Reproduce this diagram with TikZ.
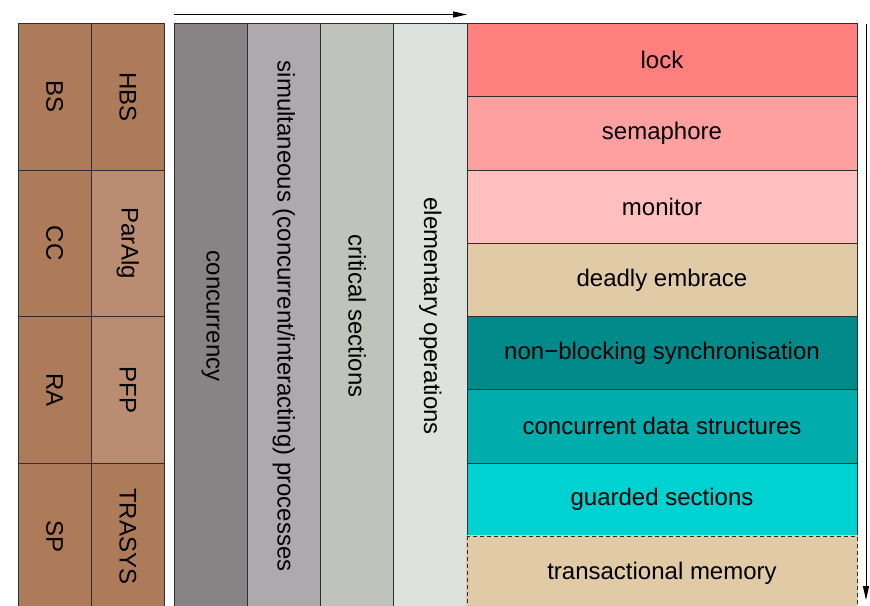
\documentclass[tikz,border=0pt]{standalone}
\usepackage{fontspec}
\setmainfont{Liberation Sans}
\usetikzlibrary{arrows.meta}
\definecolor{brownA}{HTML}{AD7A5A}
\definecolor{brownB}{HTML}{BA8C72}
\definecolor{greyA}{HTML}{888385}
\definecolor{greyB}{HTML}{AEA9AC}
\definecolor{greyC}{HTML}{BFC3BC}
\definecolor{greyD}{HTML}{DEE2DF}
\definecolor{redA}{HTML}{FF7F7F}
\definecolor{redB}{HTML}{FFA0A0}
\definecolor{redC}{HTML}{FFBFBF}
\definecolor{tan}{HTML}{E0CBA6}
\definecolor{tealA}{HTML}{008B8A}
\definecolor{tealB}{HTML}{00ADAD}
\definecolor{tealC}{HTML}{00D1D1}
\definecolor{edge}{HTML}{2E2E2E}
\begin{document}
\begin{tikzpicture}[x=1pt,y=-1pt,
  cell/.style={draw=edge, line width=1pt, inner sep=0pt, outer sep=0pt, anchor=north west,
               font=\fontsize{24}{28}\selectfont, text=black},
  lcell/.style={cell, minimum width=73.25pt, minimum height=146.5pt},
  vcol/.style={cell, minimum width=73.25pt, minimum height=585.5pt},
  rcell/.style={cell, minimum width=390pt, minimum height=73.25pt},
  arr/.style={line width=1pt, -{Triangle[length=14pt,width=6pt]}}]
\useasboundingbox (0,0) rectangle (870,605);
\clip (0,0) rectangle (870,605);
% left block
\node[lcell, fill=brownA] (bs)  at (18,23.5)  {\rotatebox{-90}{BS}};
\node[lcell, fill=brownA] (cc)  at (18,170)   {\rotatebox{-90}{CC}};
\node[lcell, fill=brownA] (ra)  at (18,316.5) {\rotatebox{-90}{RA}};
\node[lcell, fill=brownA] (sp)  at (18,463)   {\rotatebox{-90}{SP}};
\node[lcell, fill=brownA] (hbs) at (91.25,23.5)  {\rotatebox{-90}{HBS}};
\node[lcell, fill=brownB] (pa)  at (91.25,170)   {\rotatebox{-90}{ParAlg}};
\node[lcell, fill=brownB] (pfp) at (91.25,316.5) {\rotatebox{-90}{PFP}};
\node[lcell, fill=brownA] (tr)  at (91.25,463)   {\rotatebox{-90}{TRASYS}};
% middle columns
\node[vcol, fill=greyA] (c1) at (174,23.5)   {\rotatebox{-90}{concurrency}};
\node[vcol, fill=greyB] (c2) at (247.25,23.5) {\rotatebox{-90}{simultaneous (concurrent/interacting) processes}};
\node[vcol, fill=greyC] (c3) at (320.5,23.5)  {\rotatebox{-90}{critical sections}};
\node[vcol, fill=greyD] (c4) at (393.75,23.5) {\rotatebox{-90}{elementary operations}};
% right block
\node[rcell, fill=redA]  (r1) at (467,23.5)   {lock};
\node[rcell, fill=redB]  (r2) at (467,96.75)  {semaphore};
\node[rcell, fill=redC]  (r3) at (467,170)    {monitor};
\node[rcell, fill=tan]   (r4) at (467,243.25) {deadly embrace};
\node[rcell, fill=tealA] (r5) at (467,316.5)  {non−blocking synchronisation};
\node[rcell, fill=tealB] (r6) at (467,389.75) {concurrent data structures};
\node[rcell, fill=tealC] (r7) at (467,463)    {guarded sections};
\node[rcell, fill=tan, draw=tan, line width=2pt] (r8) at (467,536.25) {transactional memory};
\draw[edge, line width=1pt, dash pattern=on 4pt off 3pt] (r8.north west) rectangle (r8.south east);
% arrows
\coordinate (ha) at (174,14.5);
\coordinate (hb) at (467,14.5);
\coordinate (va) at (866,24);
\coordinate (vb) at (866,600);
\draw[arr] (ha) -- (hb);
\draw[arr] (va) -- (vb);
\end{tikzpicture}
\end{document}
